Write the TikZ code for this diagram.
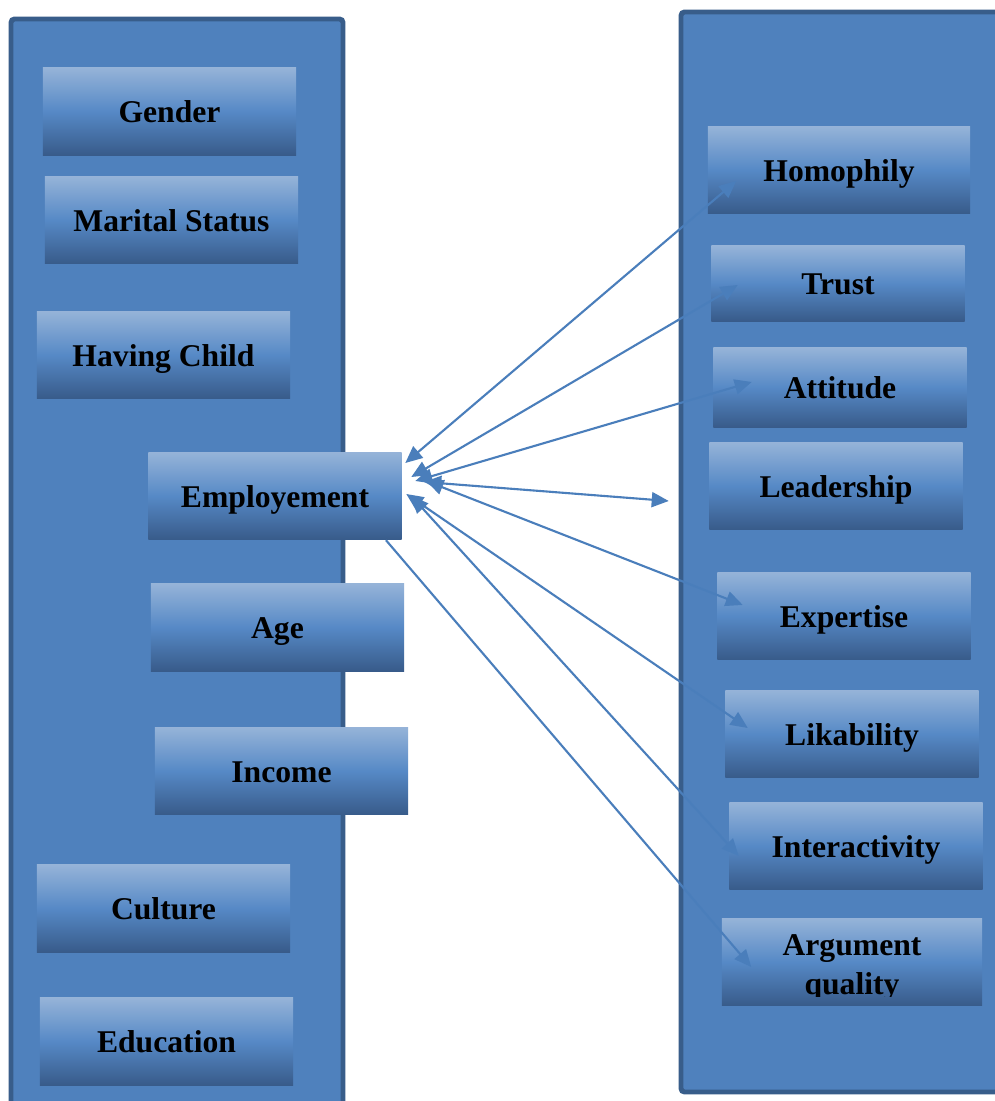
\documentclass[tikz,border=0pt]{standalone}
\usepackage{fontspec}
\setmainfont{Liberation Serif}
\usetikzlibrary{arrows.meta}

\definecolor{panelblue}{RGB}{79,129,189}
\definecolor{paneledge}{RGB}{56,93,138}
\definecolor{boxtop}{RGB}{149,179,216}
\definecolor{boxmid}{RGB}{86,137,198}
\definecolor{boxbot}{RGB}{56,91,138}
\definecolor{linkblue}{RGB}{74,126,187}

\begin{document}
\begin{tikzpicture}[
    x=0.01cm, y=-0.01cm,
    >={Triangle[length=0.17cm,width=0.15cm]},
    panel/.style={draw=paneledge, fill=panelblue, line width=1.4pt, rounded corners=1pt},
    label/.style={font=\bfseries\fontsize{9}{11}\selectfont},
    factor/.style={label, inner sep=0pt, minimum width=2.53cm, minimum height=0.87cm, align=center,
        text height=6.5pt, text depth=0pt,
        top color=boxtop, bottom color=boxbot, middle color=boxmid},
    link/.style={linkblue, line width=0.6pt},
]
    \clip (0,0) rectangle (995,1101);
    \fill[white] (0,0) rectangle (995,1101);

    % the two columns
    \draw[panel] (11,19) rectangle (343,1130);
    \draw[panel] (681,12) rectangle (1020,1092);

    % demographic factors
    \node[factor] (gender) at (169.5,111.5) {Gender};
    \node[factor] (marital) at (171.5,220) {Marital Status};
    \node[factor] (child) at (163.5,355) {Having Child};
    \node[factor] (emp) at (275,496) {Employement};
    \node[factor] (age) at (277.5,627.5) {Age};
    \node[factor] (income) at (281.5,771) {Income};
    \node[factor] (culture) at (163.5,908.5) {Culture};
    \node[factor] (education) at (166.5,1041.5) {Education};

    % source characteristics
    \node[factor, minimum width=2.62cm] (homophily) at (839,170) {Homophily};
    \node[factor, minimum height=0.75cm] (trust) at (838,283.5) {Trust};
    \node[factor, minimum height=0.79cm] (attitude) at (840,387.5) {Attitude};
    \node[factor] (leadership) at (836,486) {Leadership};
    \node[factor] (expertise) at (844,616) {Expertise};
    \node[factor] (likability) at (852,734) {Likability};
    \node[factor] (interact) at (856,846) {Interactivity};
    \node[factor, minimum width=2.6cm] (argq) at (852,962) {};
    \begin{scope}
        \clip ([shift={(0,-10)}]argq.south west) rectangle (argq.north east);
        \node[label, align=center, inner sep=0pt] (argqtext) at (852,968) {Argument\\quality};
    \end{scope}

    % links from employment
    \draw[link, <->] ([shift={(3,-33)}]emp.east) -- ([shift={(29,11)}]homophily.west);
    \draw[link, <->] ([shift={(9,-19)}]emp.east) -- ([shift={(27,1.5)}]trust.west);
    \draw[link, <->] ([shift={(13,-15)}]emp.east) -- ([shift={(39,-5.5)}]attitude.west);
    \draw[link, <->] ([shift={(22,-14)}]emp.east) -- ([shift={(-40,15)}]leadership.west);
    \draw[link, <->] ([shift={(24,-15)}]emp.east) -- ([shift={(26,-11)}]expertise.west);
    \draw[link, <->] ([shift={(4,-2)}]emp.east) -- ([shift={(23,-6)}]likability.west);
    \draw[link, <->] ([shift={(9,0)}]emp.east) -- ([shift={(10,10)}]interact.west);
    \draw[link, ->] ([shift={(111,0)}]emp.south) -- ([shift={(30,5)}]argq.west);
\end{tikzpicture}
\end{document}
